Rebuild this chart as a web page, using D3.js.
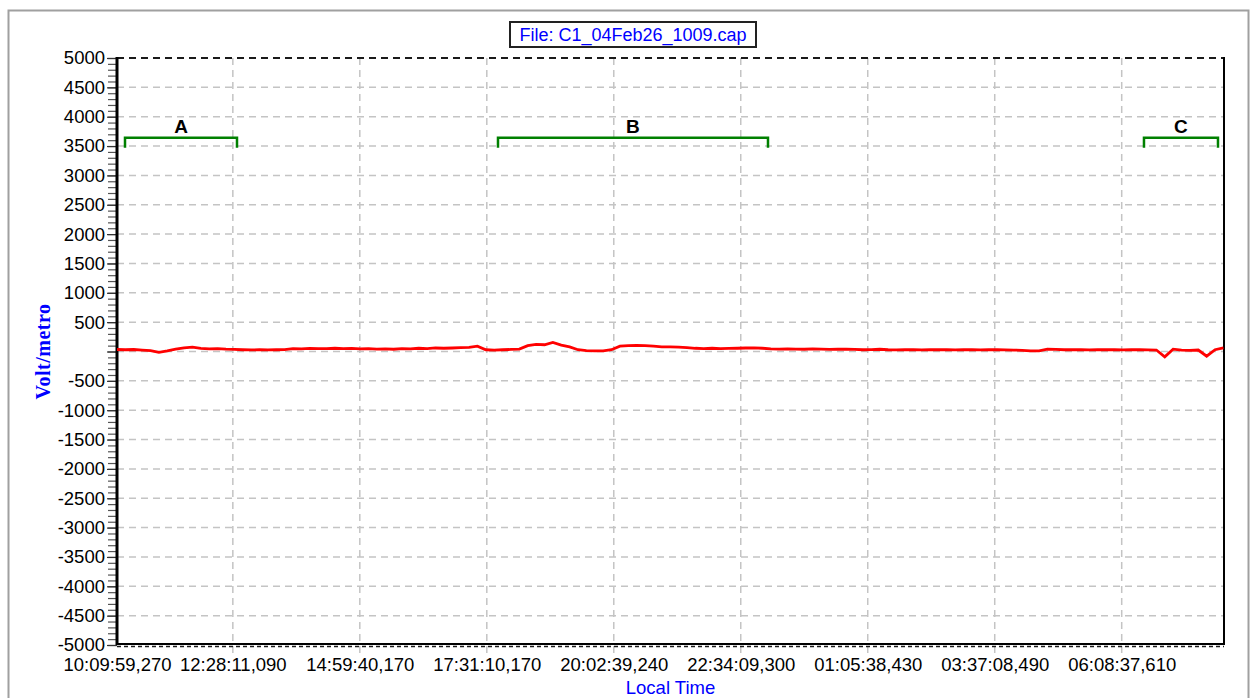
<!DOCTYPE html>
<html>
<head>
<meta charset="utf-8">
<script src="https://cdn.jsdelivr.net/npm/d3@7"></script>
<style>
  body { margin: 0; background: #fff; }
  svg { display: block; }
</style>
</head>
<body>
<div id="chart"></div>
<script>
// Data
const fileName = "File: C1_04Feb26_1009.cap";
const startTime = "2026-02-04T10:09:59.270";
const endTime = "2026-02-05T08:10:40.000";
const sampleMinutes = 10;

// field strength (V/m), one value every 10 minutes from startTime
const fieldValues = [
  34, 30, 34, 25, 15, -15, 10, 40, 60, 75,
  55, 45, 50, 40, 35, 30, 28, 30, 28, 30,
  32, 50, 45, 52, 48, 50, 55, 48, 52, 45,
  48, 40, 45, 38, 50, 45, 55, 50, 60, 55,
  60, 65, 70, 90, 30, 25, 30, 35, 40, 100,
  120, 115, 155, 110, 80, 30, 15, 10, 12, 30,
  90, 100, 105, 100, 90, 80, 78, 75, 65, 55,
  50, 55, 48, 52, 55, 60, 62, 55, 45, 42,
  45, 40, 38, 45, 40, 35, 38, 40, 35, 30,
  32, 38, 30, 28, 30, 32, 28, 30, 32, 30,
  28, 30, 30, 28, 30, 30, 28, 25, 20, 10,
  12, 40, 35, 30, 32, 30, 28, 30, 32, 30,
  28, 30, 32, 28, 25, -90, 40, 25, 20, 25,
  -80, 30, 60
];

const timeTicks = [
  "2026-02-04T10:09:59.270", "2026-02-04T12:28:11.090", "2026-02-04T14:59:40.170",
  "2026-02-04T17:31:10.170", "2026-02-04T20:02:39.240", "2026-02-04T22:34:09.300",
  "2026-02-05T01:05:38.430", "2026-02-05T03:37:08.490", "2026-02-05T06:08:37.610"
];
const timeTickLabels = [
  "10:09:59,270", "12:28:11,090", "14:59:40,170", "17:31:10,170", "20:02:39,240",
  "22:34:09,300", "01:05:38,430", "03:37:08,490", "06:08:37,610"
];

const yTicks = [5000, 4500, 4000, 3500, 3000, 2500, 2000, 1500, 1000, 500, 0,
  -500, -1000, -1500, -2000, -2500, -3000, -3500, -4000, -4500, -5000];

// marked segments
const segmentNames = ["A", "B", "C"];
const segmentStarts = ["2026-02-04T10:19:32", "2026-02-04T17:44:31", "2026-02-05T06:35:12"];
const segmentEnds = ["2026-02-04T12:33:09", "2026-02-04T23:06:38", "2026-02-05T08:03:29"];
const segmentLevel = 3640;

const width = 1252;
const height = 698;
const marginTop = 58;
const marginRight = 28;
const marginBottom = 53;
const marginLeft = 117;

const parse = d3.isoParse;
const t0 = parse(startTime);
const series = fieldValues.map((v, i) => ({ t: d3.timeMinute.offset(t0, i * sampleMinutes), v }));

const x = d3.scaleTime()
  .domain([t0, parse(endTime)])
  .range([marginLeft, width - marginRight]);

const y = d3.scaleLinear()
  .domain([-5000, 5000])
  .range([height - marginBottom, marginTop]);

const svg = d3.select("#chart")
  .append("svg")
  .attr("width", width)
  .attr("height", height)
  .attr("viewBox", `0 0 ${width} ${height}`)
  .style("font-family", "'Liberation Sans', Arial, sans-serif");

svg.append("rect")
  .attr("width", width).attr("height", height)
  .attr("fill", "#fff");

// outer gray frame
svg.append("rect")
  .attr("x", 8.5).attr("y", 10.5)
  .attr("width", 1240).attr("height", 700)
  .attr("fill", "none")
  .attr("stroke", "#a0a0a0")
  .attr("stroke-width", 2);

const x0 = marginLeft, x1 = width - marginRight;
const yTop = marginTop, yBot = height - marginBottom;

// grid
svg.append("g")
  .attr("stroke", "#c4c4c4")
  .attr("stroke-width", 1.5)
  .attr("stroke-dasharray", "7,5")
  .call(g => g.selectAll("line.v")
    .data(timeTicks.slice(1))
    .join("line")
    .attr("x1", d => x(parse(d))).attr("x2", d => x(parse(d)))
    .attr("y1", yTop).attr("y2", yBot + 8))
  .call(g => g.selectAll("line.h")
    .data(yTicks.filter(d => d !== 5000 && d !== -5000))
    .join("line")
    .attr("x1", x0).attr("x2", x1)
    .attr("y1", d => y(d)).attr("y2", d => y(d)));

// plot borders
svg.append("line")
  .attr("x1", x0).attr("x2", x1).attr("y1", yTop).attr("y2", yTop)
  .attr("stroke", "#1a1a1a").attr("stroke-width", 2).attr("stroke-dasharray", "7,5");
svg.append("line")
  .attr("x1", x1).attr("x2", x1).attr("y1", yTop - 1).attr("y2", yBot)
  .attr("stroke", "#000").attr("stroke-width", 2);
svg.append("line")
  .attr("x1", x0).attr("x2", x1).attr("y1", yBot - 1).attr("y2", yBot - 1)
  .attr("stroke", "#000").attr("stroke-width", 2);
svg.append("line")
  .attr("x1", x0).attr("x2", x1).attr("y1", yBot + 1.5).attr("y2", yBot + 1.5)
  .attr("stroke", "#1a1a1a").attr("stroke-width", 1.5).attr("stroke-dasharray", "4,3");

// y minor ticks
svg.append("g")
  .attr("transform", `translate(${x0}, 0)`)
  .call(d3.axisLeft(y).tickValues(d3.range(-5000, 5001, 100)).tickSize(9).tickFormat(""))
  .call(g => g.select(".domain").remove())
  .call(g => g.selectAll(".tick line").attr("stroke", "#555").attr("stroke-width", 1.2));

// y axis with labels (no label at 0)
svg.append("g")
  .attr("transform", `translate(${x0}, 0)`)
  .call(d3.axisLeft(y).tickValues(yTicks).tickSize(10).tickPadding(2)
    .tickFormat(d => d === 0 ? "" : d))
  .call(g => g.select(".domain").remove())
  .call(g => g.selectAll(".tick line").attr("stroke", "#333").attr("stroke-width", 1.2))
  .call(g => g.selectAll(".tick text")
    .attr("fill", "#000")
    .attr("font-size", 18.5)
    .attr("font-family", "'Liberation Sans', Arial, sans-serif"));

svg.append("line")
  .attr("x1", x0).attr("x2", x0).attr("y1", yTop - 1).attr("y2", yBot)
  .attr("stroke", "#000").attr("stroke-width", 3);

// x axis labels
svg.append("g")
  .attr("transform", `translate(0, ${yBot})`)
  .call(d3.axisBottom(x).tickValues(timeTicks.map(parse)).tickSize(0).tickPadding(13)
    .tickFormat((d, i) => timeTickLabels[i]))
  .call(g => g.select(".domain").remove())
  .call(g => g.selectAll(".tick text")
    .attr("fill", "#000")
    .attr("font-size", 18.5)
    .attr("font-family", "'Liberation Sans', Arial, sans-serif"));

// data line
svg.append("path")
  .datum(series)
  .attr("fill", "none")
  .attr("stroke", "#ff0000")
  .attr("stroke-width", 2.8)
  .attr("d", d3.line().x(d => x(d.t)).y(d => y(d.v)));

// segment brackets
const seg = svg.append("g")
  .selectAll("g")
  .data(segmentNames.map((n, i) => ({ n, s: parse(segmentStarts[i]), e: parse(segmentEnds[i]) })))
  .join("g");

seg.append("path")
  .attr("fill", "none")
  .attr("stroke", "#008000")
  .attr("stroke-width", 2.5)
  .attr("d", d => `M${x(d.s)},${y(segmentLevel) + 10}V${y(segmentLevel)}H${x(d.e)}V${y(segmentLevel) + 10}`);

seg.append("text")
  .attr("x", d => (x(d.s) + x(d.e)) / 2)
  .attr("y", y(segmentLevel) - 5)
  .attr("text-anchor", "middle")
  .attr("font-size", 19)
  .attr("font-weight", "bold")
  .text(d => d.n);

// title box
const title = svg.append("g");
title.append("rect")
  .attr("x", 510).attr("y", 22)
  .attr("width", 246).attr("height", 25)
  .attr("fill", "#fff")
  .attr("stroke", "#222")
  .attr("stroke-width", 2);
title.append("text")
  .attr("x", 633).attr("y", 41)
  .attr("text-anchor", "middle")
  .attr("fill", "#0000ff")
  .attr("font-size", 18)
  .text(fileName);

// axis titles
svg.append("text")
  .attr("x", (x0 + x1) / 2).attr("y", 694)
  .attr("text-anchor", "middle")
  .attr("fill", "#0000ff")
  .attr("font-size", 18.5)
  .text("Local Time");

svg.append("text")
  .attr("transform", `translate(50, ${y(0)}) rotate(-90)`)
  .attr("text-anchor", "middle")
  .attr("fill", "#0000ff")
  .attr("font-size", 20)
  .attr("font-family", "'Liberation Serif', 'Times New Roman', serif")
  .attr("font-weight", "bold")
  .attr("letter-spacing", 0.5)
  .text("Volt/metro");
</script>
</body>
</html>
